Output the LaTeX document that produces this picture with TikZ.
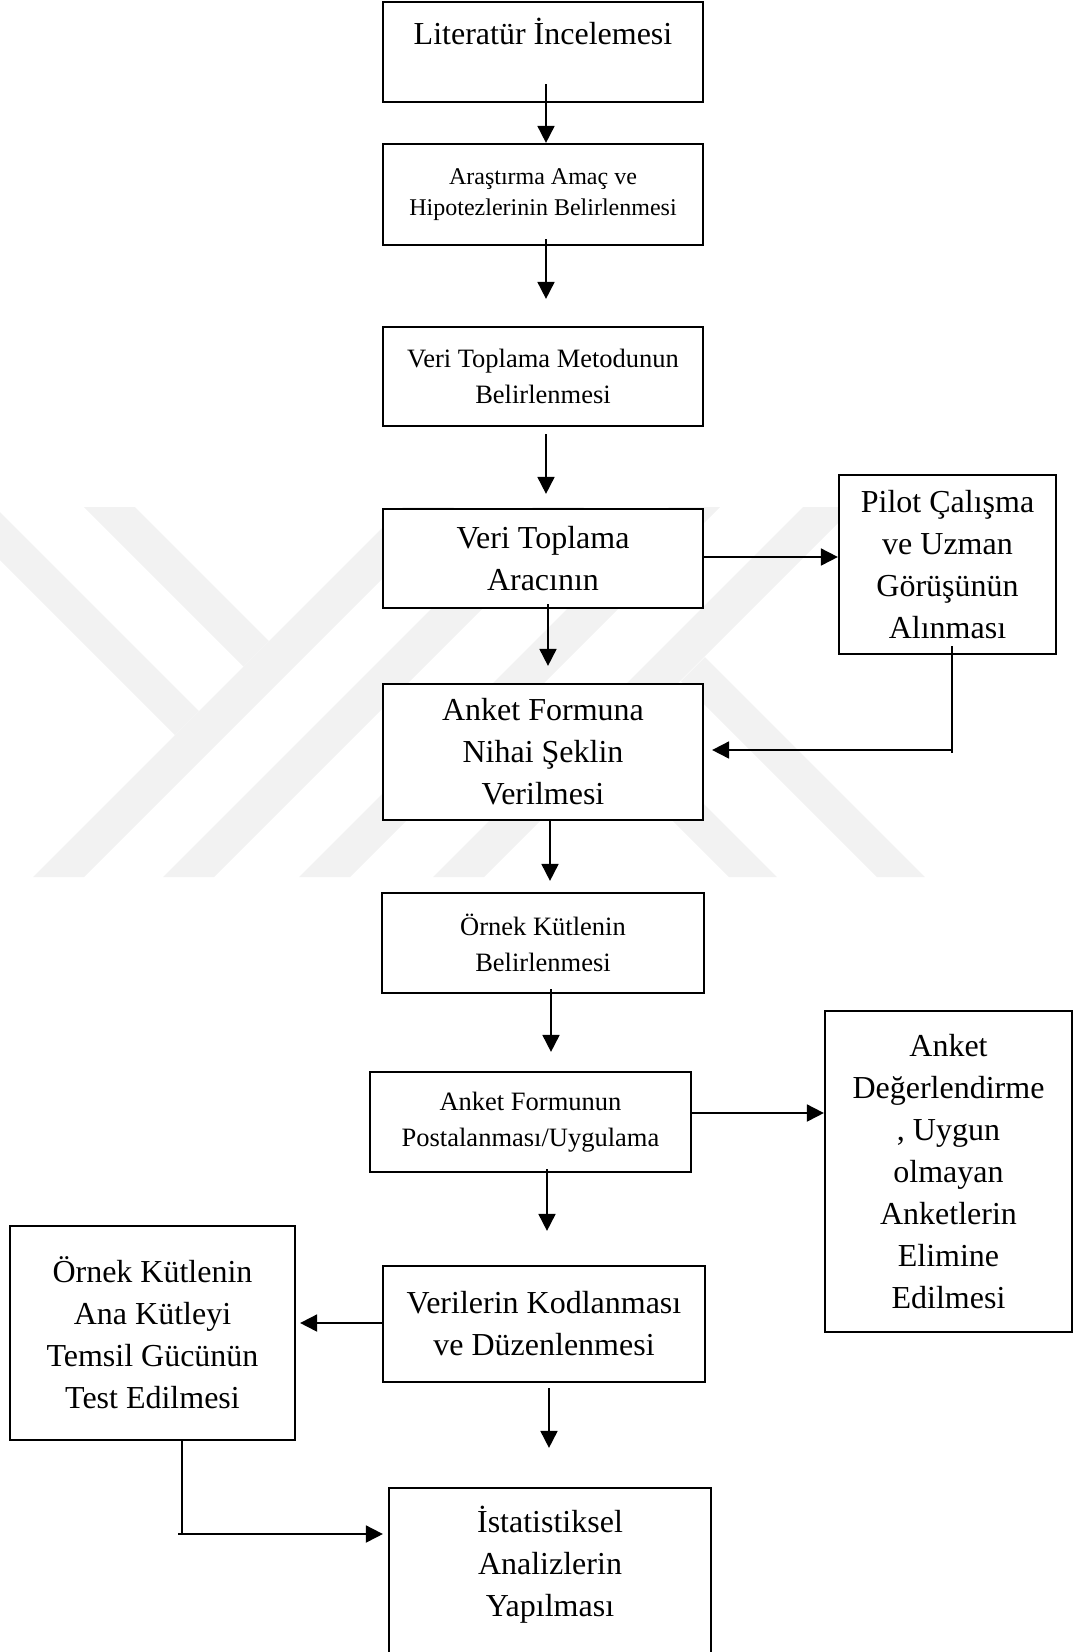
\documentclass[tikz,border=0pt]{standalone}
\usepackage{fontspec}
\setmainfont{Liberation Serif}
\usetikzlibrary{arrows.meta}
\definecolor{filigran}{gray}{0.948}
\tikzset{
  kutu/.style={draw,fill=white,line width=2.2pt,align=center,inner sep=0pt},
  buyuk/.style={font=\fontsize{32}{42}\selectfont},
  orta/.style={font=\fontsize{26.5}{36}\selectfont},
  kucuk/.style={font=\fontsize{24}{31}\selectfont},
  ok/.style={->,line width=1.8pt},
  cizgi/.style={line width=1.8pt}
}
\begin{document}
\begin{tikzpicture}[x=1pt,y=-1pt,>={Triangle[length=17pt,width=17pt]}]
\useasboundingbox (0,0) rectangle (1074,1652);
% filigran (arka plan)
\begin{scope}
  \clip (0,507) rectangle (1074,877);
  \foreach \s in {910,1040,1176,1310}
    \fill[filigran] ({\s-507},507) -- ({\s+51-507},507) -- ({\s+51-877},877) -- ({\s-877},877) -- cycle;
  \fill[filigran] (84,507) -- (135,507) -- (269,641) -- (243.5,666.5) -- cycle;
  \fill[filigran] (-60,452) -- (-60,500) -- (175,735) -- (199,711) -- cycle;
  \fill[filigran] (681,681) -- (705,657) -- (925,877) -- (877,877) -- cycle;
  \fill[filigran] (607,755) -- (631,731) -- (777,877) -- (729,877) -- cycle;
\end{scope}

% kutular
\node[kutu,buyuk,minimum width=320pt,minimum height=100pt] (lit) at (543,52) {Literatür İncelemesi\\~};
\node[kutu,kucuk,minimum width=320pt,minimum height=101pt] (amac) at (543,194.5) {Araştırma Amaç ve\\Hipotezlerinin Belirlenmesi};
\node[kutu,orta,minimum width=320pt,minimum height=99pt] (metod) at (543,376.5) {Veri Toplama Metodunun\\Belirlenmesi};
\node[kutu,buyuk,minimum width=320pt,minimum height=99pt] (arac) at (543,558.5) {Veri Toplama\\Aracının};
\node[kutu,buyuk,minimum width=217pt,minimum height=179pt] (pilot) at (947.5,564.5) {Pilot Çalışma\\ve Uzman\\Görüşünün\\Alınması};
\node[kutu,buyuk,minimum width=320pt,minimum height=136pt] (nihai) at (543,752) {Anket Formuna\\Nihai Şeklin\\Verilmesi};
\node[kutu,orta,minimum width=322pt,minimum height=100pt] (orneklem) at (543,943) {Örnek Kütlenin\\Belirlenmesi};
\node[kutu,orta,minimum width=321pt,minimum height=100pt] (posta) at (530.5,1122) {Anket Formunun\\Postalanması/Uygulama};
\node[kutu,buyuk,minimum width=247pt,minimum height=321pt] (eleme) at (948.5,1171.5) {Anket\\Değerlendirme\\, Uygun\\olmayan\\Anketlerin\\Elimine\\Edilmesi};
\node[kutu,buyuk,minimum width=322pt,minimum height=116pt] (kodlama) at (544,1324) {Verilerin Kodlanması\\ve Düzenlenmesi};
\node[kutu,buyuk,minimum width=285pt,minimum height=214pt] (temsil) at (152.5,1333) {Örnek Kütlenin\\Ana Kütleyi\\Temsil Gücünün\\Test Edilmesi};
\node[kutu,buyuk,minimum width=322pt,minimum height=230pt] (analiz) at (550,1603) {İstatistiksel\\Analizlerin\\Yapılması\\~\\~};

% oklar
\draw[ok] ([xshift=3pt,yshift=19pt]lit.south) -- ([xshift=3pt]amac.north);
\draw[ok] ([xshift=3pt,yshift=7pt]amac.south) -- ([xshift=3pt,yshift=27pt]metod.north);
\draw[ok] ([xshift=3pt,yshift=-7pt]metod.south) -- ([xshift=3pt,yshift=14pt]arac.north);
\draw[ok] ([xshift=5pt,yshift=5pt]arac.south) -- ([xshift=5pt,yshift=17pt]nihai.north);
\draw[ok] ([yshift=1.5pt]arac.east) coordinate (a1) -- (a1 -| pilot.west);
% pilot -> nihai geri donus
\path ([xshift=4.5pt,yshift=9pt]pilot.south) coordinate (p1);
\path ([yshift=2pt]nihai.east) coordinate (n1);
\coordinate (donus) at (p1 |- n1);
\draw[cizgi] (p1) -- ([yshift=-3pt]donus);
\draw[ok] (donus) -- ([xshift=8pt]n1);
\draw[ok] ([xshift=7pt]nihai.south) -- ([xshift=7pt,yshift=11pt]orneklem.north);
\draw[ok] ([xshift=8pt,yshift=5pt]orneklem.south) -- ([xshift=20.5pt,yshift=19pt]posta.north);
\path ([yshift=9pt]posta.east) coordinate (e1);
\draw[ok] (e1) -- (e1 -| eleme.west);
\draw[ok] ([xshift=16.5pt,yshift=4pt]posta.south) -- ([xshift=3pt,yshift=34pt]kodlama.north);
\path ([xshift=4pt]temsil.east) coordinate (t2);
\draw[ok] ([yshift=1pt]kodlama.west) coordinate (k1) -- (k1 -| t2);
\draw[ok] ([xshift=5pt,yshift=-5pt]kodlama.south) -- ([xshift=-1pt,yshift=39pt]analiz.north);
% temsil -> analiz
\path ([xshift=29.5pt]temsil.south) coordinate (t1);
\path ([xshift=-5pt,yshift=69pt]analiz.west) coordinate (s1);
\coordinate (kose) at (t1 |- s1);
\draw[cizgi] (t1) -- (kose);
\draw[ok] ([xshift=-4pt]kose) -- (s1);
\end{tikzpicture}
\end{document}
